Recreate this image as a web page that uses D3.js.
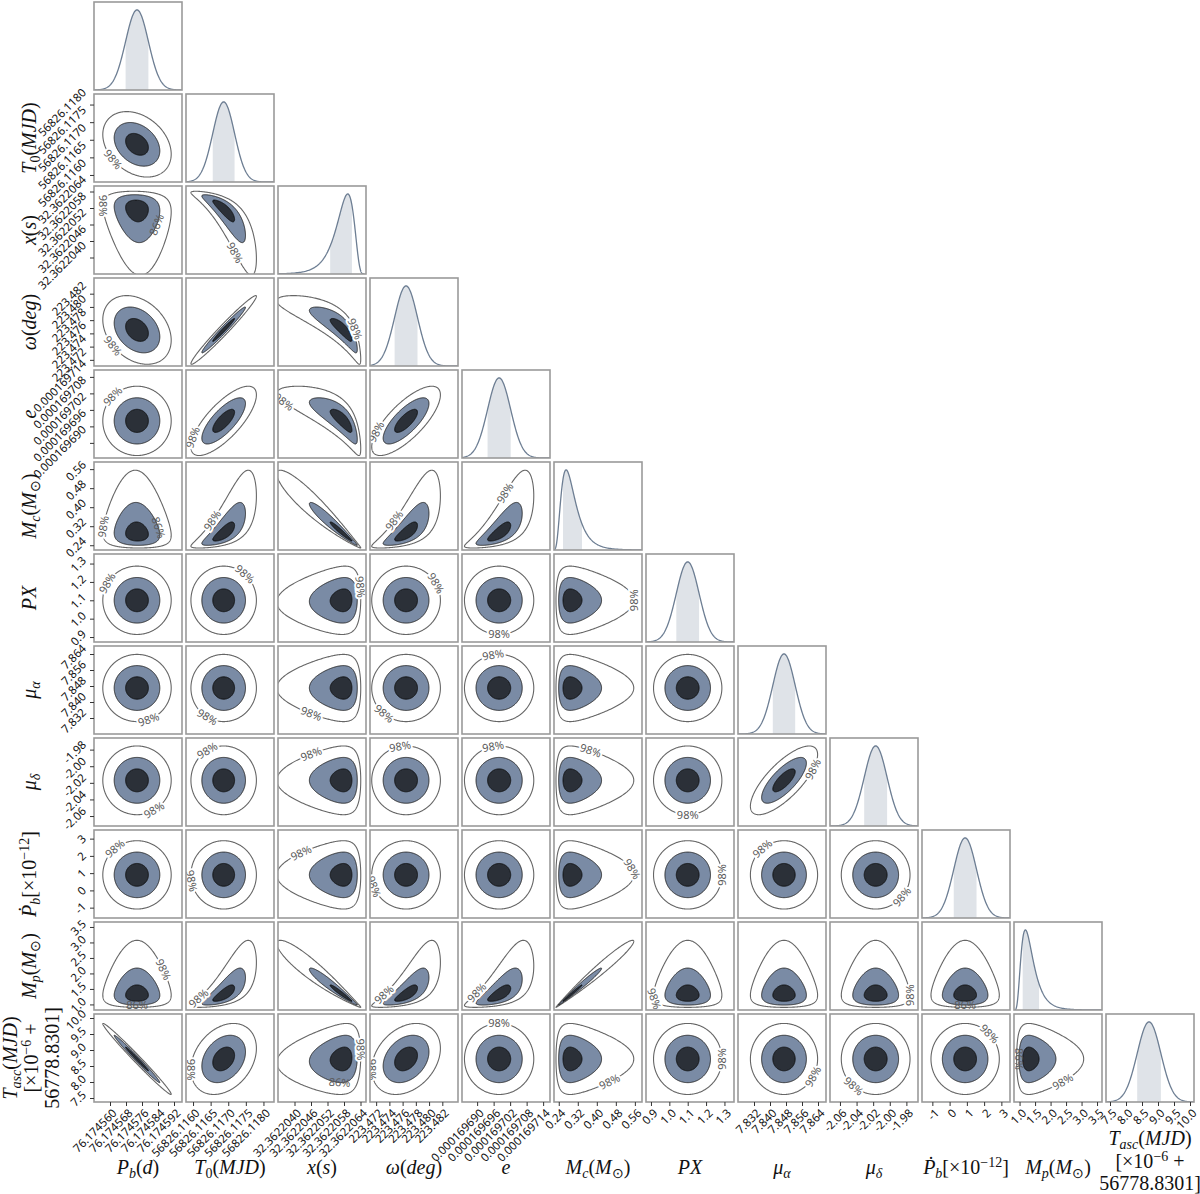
<!DOCTYPE html>
<html>
<head>
<meta charset="utf-8">
<script src="https://cdn.jsdelivr.net/npm/d3@7"></script>
<style>
  body { margin: 0; background: #fff; }
  svg { display: block; }
  .tick text { font-family: "Noto Sans", sans-serif; font-size: 11.5px; fill: #111; }
  .tick line { stroke: #333; }
  .lab { font-family: "Liberation Serif", serif; fill: #111; }
  .clab { font-family: "Noto Sans", sans-serif; font-size: 11px; fill: #5a5a5a; }
</style>
</head>
<body>
<svg id="chart" width="1200" height="1194"></svg>
<script>
// parameters, in corner order
const axisLabels = [
  "P_{b}(d)", "T_{0}(MJD)", "x(s)", "ω(deg)", "e", "M_{c}(M_{⊙})", "PX",
  "μ_{α}", "μ_{δ}", "Ṗ_{b}[×10^{−12}]", "M_{p}(M_{⊙})",
  ["T_{asc}(MJD)", "[×10^{−6} +", "56778.8301]"]
];

// axis ranges
const lo = [76.174552, 56826.1158, 32.3622034, 223.47107, 0.0001696845, 0.22, 0.873, 7.824, -2.072, -1.6, 0.82, 7.375];
const hi = [76.174596, 56826.1183, 32.3622066, 223.48437, 0.0001697165, 0.59, 1.352, 7.868, -1.966, 3.5, 3.66, 10.125];

// posterior centre (median), width and skew of each parameter
const centre = [76.1745735, 56826.11687, 32.36220578, 223.47652, 0.000169698, 0.288, 1.10, 7.847, -2.017, 0.9, 1.30, 8.72];
const spread = [5.7e-6, 0.00031, 0.382e-6, 0.00173, 4.2e-9, 0.0384, 0.062, 0.0056, 0.0138, 0.66, 0.254, 0.37];
const skew = [0, 0, -0.45, 0, 0, 0.5, 0, 0, 0, 0, 0.5, 0];

// pairwise correlations (row param vs column param)
const rho = [
  [],
  [-0.3],
  [-0.1, -0.85],
  [-0.3, 0.98, -0.85],
  [0.0, 0.75, -0.8, 0.75],
  [-0.05, 0.75, -0.97, 0.75, 0.75],
  [0, 0, 0.05, 0, 0, 0],
  [0, 0, 0, 0, 0, 0, 0],
  [0, 0, 0, 0, 0, 0, 0, 0.75],
  [0, 0, 0, 0, 0, 0, 0, 0, 0],
  [0, 0.75, -0.97, 0.75, 0.7, 0.99, 0, 0, 0, 0],
  [-0.99, 0.3, 0.1, 0.3, 0, 0, 0, 0, 0, 0, 0]
];

const tickLabels = [
  ["76.174560", "76.174568", "76.174576", "76.174584", "76.174592"],
  ["56826.1160", "56826.1165", "56826.1170", "56826.1175", "56826.1180"],
  ["32.3622040", "32.3622046", "32.3622052", "32.3622058", "32.3622064"],
  ["223.472", "223.474", "223.476", "223.478", "223.480", "223.482"],
  ["0.000169690", "0.000169696", "0.000169702", "0.000169708", "0.000169714"],
  ["0.24", "0.32", "0.40", "0.48", "0.56"],
  ["0.9", "1.0", "1.1", "1.2", "1.3"],
  ["7.832", "7.840", "7.848", "7.856", "7.864"],
  ["-2.06", "-2.04", "-2.02", "-2.00", "-1.98"],
  ["-1", "0", "1", "2", "3"],
  ["1.0", "1.5", "2.0", "2.5", "3.0", "3.5"],
  ["7.5", "8.0", "8.5", "9.0", "9.5", "10.0"]
];

const levels = [3, 2, 1]; // sigma levels: 98%, 86%, 39%

// where the contour labels sit (angle on the contour, degrees)
const lab98 = [
  [],
  [225],
  [180, 290],
  [225, null, 60],
  [135, 160, 200, 150],
  [170, 110, null, 110, 80],
  [150, 50, 20, 30, 270, 0],
  [290, 240, 230, 230, 100, null, null],
  [300, 120, 130, 100, 100, 60, 270, 330],
  [130, 190, 140, 200, null, 10, 0, 130, 320],
  [40, 140, null, 130, 130, null, 190, null, 0, null],
  [null, 180, 10, 180, 90, 320, 0, 330, 230, 45, 320]
];
const lab86 = [[2, 0, 330], [5, 0, 20], [10, 0, 270], [11, 2, 260], [10, 9, 270], [11, 10, 180]];

const N = 12, left0 = 94, top0 = 2, step = 92, size = 88;
const svg = d3.select("#chart");

const xs = lo.map((l, i) => d3.scaleLinear().domain([l, hi[i]]).range([0, size]));
const ys = lo.map((l, i) => d3.scaleLinear().domain([l, hi[i]]).range([size, 0]));

// latent gaussian -> parameter value
function tr(i, z) {
  const a = skew[i];
  return centre[i] + spread[i] * (a ? (Math.exp(a * z) - 1) / a : z);
}

function pointAt(r, c, k, th) {
  const p = rho[r][c], q = Math.sqrt(1 - p * p);
  const zx = k * Math.cos(th), zy = k * (p * Math.cos(th) + q * Math.sin(th));
  return [xs[c](tr(c, zx)), ys[r](tr(r, zy))];
}

const line = d3.line().curve(d3.curveLinearClosed);
const thetas = d3.range(0, 2 * Math.PI, Math.PI / 180);

function addLabel(g, r, c, k, deg, txt, halo) {
  const th = deg * Math.PI / 180;
  const p = pointAt(r, c, k, th);
  const a = pointAt(r, c, k, th - 0.03), b = pointAt(r, c, k, th + 0.03);
  let ang = Math.atan2(b[1] - a[1], b[0] - a[0]) * 180 / Math.PI;
  if (ang > 90) ang -= 180;
  if (ang < -90) ang += 180;
  g.append("text").attr("class", "clab")
    .attr("transform", `translate(${p[0]},${p[1]}) rotate(${ang})`)
    .attr("text-anchor", "middle").attr("dy", "0.35em")
    .attr("stroke", halo).attr("stroke-width", halo === "none" ? 0 : 4)
    .attr("paint-order", "stroke")
    .text(txt);
}

for (let r = 0; r < N; r++) {
  for (let c = 0; c <= r; c++) {
    const g = svg.append("g").attr("transform", `translate(${left0 + c * step},${top0 + r * step})`);
    const id = `clip-${r}-${c}`;
    g.append("clipPath").attr("id", id).append("rect").attr("width", size).attr("height", size);
    const body = g.append("g").attr("clip-path", `url(#${id})`);

    if (r === c) {
      const zs = d3.range(-5, 5.0001, 0.04);
      const pts = zs.map(z => ({ z, v: tr(c, z), p: Math.exp(-z * z / 2) / (skew[c] ? Math.exp(skew[c] * z) : 1) }));
      const yd = d3.scaleLinear().domain([0, d3.max(pts, d => d.p)]).range([size, size * 0.09]);
      body.append("path")
        .datum(pts.filter(d => Math.abs(d.z) <= 1.0001))
        .attr("fill", "#dfe3e8")
        .attr("d", d3.area().x(d => xs[c](d.v)).y0(size).y1(d => yd(d.p)));
      body.append("path")
        .datum(pts)
        .attr("fill", "none").attr("stroke", "#6d7e93").attr("stroke-width", 1.3)
        .attr("d", d3.line().x(d => xs[c](d.v)).y(d => yd(d.p)));
    } else {
      const paths = levels.map(k => line(thetas.map(th => pointAt(r, c, k, th))));
      body.append("path").attr("d", paths[0]).attr("fill", "none").attr("stroke", "#666").attr("stroke-width", 1.1);
      body.append("path").attr("d", paths[1]).attr("fill", "#7a8ba5").attr("stroke", "#1c1c1c").attr("stroke-width", 0.9);
      body.append("path").attr("d", paths[2]).attr("fill", "#2b3038").attr("stroke", "#111").attr("stroke-width", 0.9);
      const d98 = lab98[r][c];
      if (d98 != null) addLabel(body, r, c, 3, d98, "98%", "#fff");
      lab86.filter(l => l[0] === r && l[1] === c).forEach(l => addLabel(body, r, c, 2, l[2], "86%", "none"));
    }

    g.append("rect").attr("width", size).attr("height", size)
      .attr("fill", "none").attr("stroke", "#9a9a9a").attr("stroke-width", 1.6);

    // tick labels rotated 45 degrees, box placed next to the tick
    if (c === 0 && r > 0) {
      const ax = g.append("g").call(d3.axisLeft(ys[r]).tickValues(tickLabels[r].map(Number))
        .tickFormat((d, i) => tickLabels[r][i]).tickSize(4));
      ax.select(".domain").remove();
      ax.selectAll(".tick text").each(function () {
        const t = d3.select(this);
        const L = this.getComputedTextLength();
        const w = (L + 11) / Math.SQRT2;
        t.attr("x", 0).attr("dy", "0.35em").attr("text-anchor", "middle")
          .attr("transform", `translate(${-(6 + w / 2)},${Math.max(0, (w - 18) * 0.22)}) rotate(-45)`);
      });
    }
    if (r === N - 1) {
      const ax = g.append("g").attr("transform", `translate(0,${size})`)
        .call(d3.axisBottom(xs[c]).tickValues(tickLabels[c].map(Number))
          .tickFormat((d, i) => tickLabels[c][i]).tickSize(4));
      ax.select(".domain").remove();
      ax.selectAll(".tick text").each(function () {
        const t = d3.select(this);
        const L = this.getComputedTextLength();
        const w = (L + 11) / Math.SQRT2;
        t.attr("y", 0).attr("dy", "0.35em").attr("text-anchor", "middle")
          .attr("transform", `translate(${-w / 2 + 8},${5 + w / 2}) rotate(-45)`);
      });
    }
  }
}

// mini math markup: _{..} subscript, ^{..} superscript, letters italic
function mathText(sel, str, fs) {
  const runs = [];
  let i = 0;
  while (i < str.length) {
    if ((str[i] === "_" || str[i] === "^") && str[i + 1] === "{") {
      const end = str.indexOf("}", i);
      for (const ch of str.slice(i + 2, end)) runs.push({ ch, mode: str[i] });
      i = end + 1;
    } else { runs.push({ ch: str[i], mode: "" }); i++; }
  }
  const isIt = ch => /[A-Za-zα-ωṖ]/.test(ch);
  const groups = [];
  runs.forEach(rn => {
    const it = isIt(rn.ch);
    const last = groups[groups.length - 1];
    if (last && last.mode === rn.mode && last.it === it) last.s += rn.ch;
    else groups.push({ s: rn.ch, mode: rn.mode, it });
  });
  let shift = 0;
  groups.forEach(gp => {
    const target = gp.mode === "_" ? 0.2 * fs : gp.mode === "^" ? -0.36 * fs : 0;
    sel.append("tspan")
      .attr("font-style", gp.it ? "italic" : "normal")
      .attr("font-size", gp.mode ? fs * 0.7 : fs)
      .attr("dy", target - shift)
      .text(gp.s);
    shift = target;
  });
}

const FS = 20;
axisLabels.forEach((lab, i) => {
  const cx = left0 + i * step + size / 2;
  const lines = Array.isArray(lab) ? lab : [lab];
  const xBase = lines.length > 1 ? [1145, 1168, 1190] : [1174];
  lines.forEach((s, k) => {
    const t = svg.append("text").attr("class", "lab").attr("text-anchor", "middle")
      .attr("x", cx).attr("y", xBase[k]);
    mathText(t, s, FS);
  });
  if (i > 0) {
    const cy = top0 + i * step + size / 2;
    const yBase = lines.length > 1 ? [17, 38, 59] : [36];
    lines.forEach((s, k) => {
      const t = svg.append("text").attr("class", "lab").attr("text-anchor", "middle")
        .attr("transform", `translate(${yBase[k]},${cy}) rotate(-90)`);
      mathText(t, s, FS);
    });
  }
});
</script>
</body>
</html>
